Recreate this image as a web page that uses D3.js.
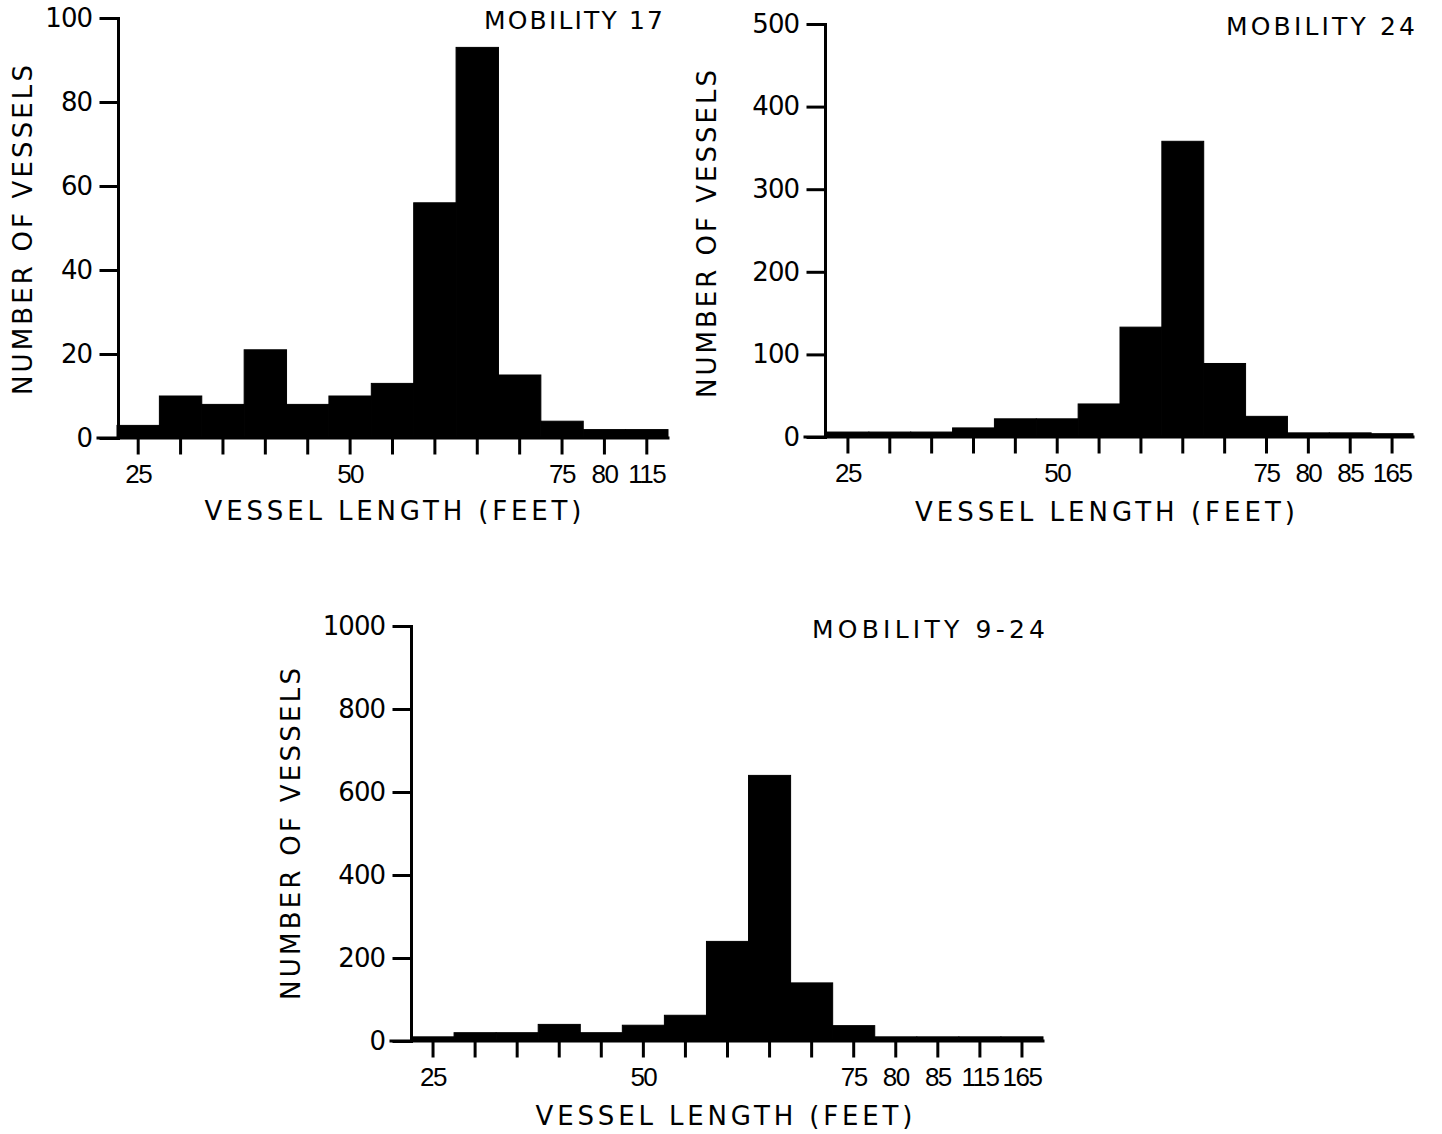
<!DOCTYPE html>
<html>
<head>
<meta charset="utf-8">
<script src="https://cdn.jsdelivr.net/npm/d3@7"></script>
<style>
  html, body { margin: 0; padding: 0; background: #fff; }
  svg { display: block; }
  .axis path, .axis line { stroke: #000; stroke-width: 3px; stroke-linecap: square; }
  .axis text { fill: #000; }
  .label { font-family: "DejaVu Sans", "Liberation Sans", sans-serif; fill: #000; }
</style>
</head>
<body>
<svg id="chart" width="1442" height="1134"></svg>
<script>
// Vessel length classes (feet) and vessel counts per class
const lengths17 = ["25","30","35","40","45","50","55","60","65","70","75","80","115"];
const counts17  = [3, 10, 8, 21, 8, 10, 13, 56, 93, 15, 4, 2, 2];
const labeled17 = ["25","50","75","80","115"];
const yTicks17  = [0, 20, 40, 60, 80, 100];

const lengths24 = ["25","30","35","40","45","50","55","60","65","70","75","80","85","165"];
const counts24  = [6, 6, 6, 11, 22, 22, 40, 133, 358, 89, 25, 5, 5, 4];
const labeled24 = ["25","50","75","80","85","165"];
const yTicks24  = [0, 100, 200, 300, 400, 500];

const lengths924 = ["25","30","35","40","45","50","55","60","65","70","75","80","85","115","165"];
const counts924  = [10, 20, 20, 40, 20, 38, 62, 240, 640, 140, 37, 10, 10, 10, 10];
const labeled924 = ["25","50","75","80","85","115","165"];
const yTicks924  = [0, 200, 400, 600, 800, 1000];

const titles = ["MOBILITY 17", "MOBILITY 24", "MOBILITY 9-24"];
const xTitle = "VESSEL LENGTH (FEET)";
const yTitle = "NUMBER OF VESSELS";

// Panel placement on the page
const panels = [
  { cats: lengths17, vals: counts17, labeled: labeled17, yTicks: yTicks17, title: titles[0],
    axisX: 118, base: 438, top: 18, xr: [117, 668],
    titleEnd: 663, titleY: 29, titleW: 179,
    xtC: 393, xtY: 520, xtW: 377, ytX: 22, ytC: 230, ytW: 330 },
  { cats: lengths24, vals: counts24, labeled: labeled24, yTicks: yTicks24, title: titles[1],
    axisX: 825, base: 437, top: 24, xr: [827, 1413],
    titleEnd: 1415, titleY: 35, titleW: 189,
    xtC: 1105, xtY: 521, xtW: 380, ytX: 706, ytC: 234, ytW: 328 },
  { cats: lengths924, vals: counts924, labeled: labeled924, yTicks: yTicks924, title: titles[2],
    axisX: 411, base: 1041, top: 626, xr: [412, 1043],
    titleEnd: 1045, titleY: 638, titleW: 233,
    xtC: 724, xtY: 1125, xtW: 377, ytX: 290, ytC: 834, ytW: 332 }
];

const svg = d3.select("#chart");

panels.forEach(p => {
  const x = d3.scaleBand().domain(p.cats).range(p.xr).padding(0);
  const y = d3.scaleLinear().domain([0, d3.max(p.yTicks)]).range([p.base, p.top]);
  const g = svg.append("g");

  // histogram bars
  g.selectAll("rect").data(p.cats.map((c, i) => ({ c, v: p.vals[i] })))
    .join("rect")
    .attr("x", d => x(d.c))
    .attr("width", x.bandwidth())
    .attr("y", d => y(d.v))
    .attr("height", d => y(0) - y(d.v))
    .attr("fill", "#000")
    .attr("stroke", "#000")
    .attr("stroke-width", 1);

  // bottom axis: a tick under every class, labels on selected classes
  const xa = g.append("g").attr("class", "axis")
    .attr("transform", `translate(0,${p.base})`)
    .call(d3.axisBottom(x).tickSize(15).tickSizeOuter(0).tickPadding(12)
      .tickFormat(d => p.labeled.includes(d) ? d : ""));
  xa.select(".domain").attr("d", `M${p.axisX - 20},0H${p.xr[1]}`);
  xa.selectAll("text")
    .attr("font-family", "'Liberation Sans', Arial, sans-serif")
    .attr("font-size", 26).attr("letter-spacing", "-1.5px");

  // left axis
  const ya = g.append("g").attr("class", "axis")
    .attr("transform", `translate(${p.axisX},0)`)
    .call(d3.axisLeft(y).tickValues(p.yTicks).tickFormat(d3.format("d"))
      .tickSize(17).tickSizeOuter(0).tickPadding(9));
  ya.selectAll("text")
    .attr("font-family", "'DejaVu Sans', sans-serif")
    .attr("font-size", 26).attr("letter-spacing", "-1px");

  // panel title
  g.append("text").attr("class", "label")
    .attr("x", p.titleEnd - p.titleW).attr("y", p.titleY)
    .attr("font-size", 25)
    .attr("textLength", p.titleW).attr("lengthAdjust", "spacing")
    .text(p.title);

  // axis titles
  g.append("text").attr("class", "label")
    .attr("x", p.xtC - p.xtW / 2).attr("y", p.xtY)
    .attr("font-size", 26)
    .attr("textLength", p.xtW).attr("lengthAdjust", "spacing")
    .text(xTitle);

  g.append("text").attr("class", "label")
    .attr("transform", `translate(${p.ytX + 10},${p.ytC}) rotate(-90)`)
    .attr("x", -p.ytW / 2).attr("y", 0)
    .attr("font-size", 26)
    .attr("textLength", p.ytW).attr("lengthAdjust", "spacing")
    .text(yTitle);
});
</script>
</body>
</html>
